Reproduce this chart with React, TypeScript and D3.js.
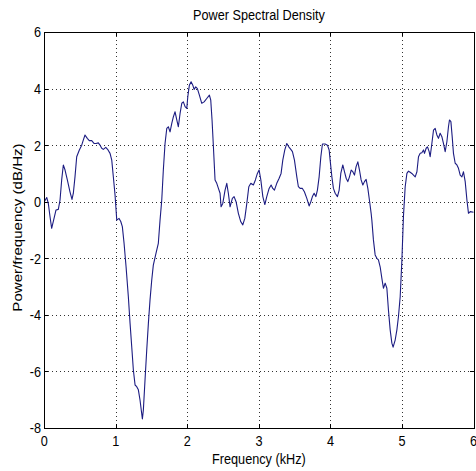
import React from "react";
import * as d3 from "d3";

const freqKHz = [
  0.0, 0.034, 0.056, 0.08, 0.103, 0.136, 0.164, 0.196, 0.22, 0.243, 0.266, 0.29, 0.322, 0.359, 0.387, 0.406,
  0.429, 0.453, 0.49, 0.523, 0.545, 0.569, 0.601, 0.629, 0.663, 0.695, 0.723, 0.755, 0.779, 0.803, 0.825,
  0.859, 0.891, 0.919, 0.943, 0.965, 0.989, 1.013, 1.045, 1.069, 1.091, 1.115, 1.143, 1.175, 1.199, 1.222,
  1.245, 1.269, 1.292, 1.315, 1.338, 1.371, 1.385, 1.408, 1.432, 1.455, 1.478, 1.502, 1.524, 1.562, 1.594,
  1.618, 1.642, 1.664, 1.688, 1.712, 1.734, 1.758, 1.782, 1.804, 1.828, 1.852, 1.874, 1.898, 1.922, 1.944,
  1.968, 1.992, 2.006, 2.028, 2.052, 2.076, 2.094, 2.117, 2.14, 2.168, 2.201, 2.234, 2.271, 2.308, 2.327,
  2.345, 2.364, 2.387, 2.411, 2.434, 2.457, 2.471, 2.495, 2.527, 2.551, 2.573, 2.597, 2.629, 2.653, 2.681,
  2.713, 2.747, 2.775, 2.803, 2.831, 2.859, 2.887, 2.923, 2.951, 2.979, 3.003, 3.027, 3.055, 3.083, 3.11,
  3.143, 3.171, 3.194, 3.217, 3.25, 3.283, 3.31, 3.334, 3.362, 3.39, 3.418, 3.446, 3.469, 3.497, 3.53,
  3.552, 3.576, 3.608, 3.636, 3.67, 3.702, 3.726, 3.748, 3.772, 3.796, 3.818, 3.842, 3.866, 3.888, 3.926,
  3.958, 3.982, 3.996, 4.02, 4.042, 4.066, 4.098, 4.122, 4.145, 4.173, 4.196, 4.22, 4.243, 4.266, 4.29,
  4.313, 4.336, 4.359, 4.383, 4.406, 4.429, 4.453, 4.476, 4.499, 4.523, 4.545, 4.569, 4.579, 4.601, 4.625,
  4.649, 4.671, 4.695, 4.719, 4.741, 4.765, 4.789, 4.811, 4.835, 4.859, 4.876, 4.905, 4.929, 4.951, 4.975,
  4.999, 5.021, 5.045, 5.069, 5.091, 5.115, 5.138, 5.161, 5.185, 5.209, 5.231, 5.255, 5.278, 5.301, 5.315,
  5.338, 5.357, 5.38, 5.394, 5.418, 5.441, 5.464, 5.488, 5.51, 5.534, 5.558, 5.58, 5.604, 5.628, 5.65,
  5.664, 5.684, 5.702, 5.72, 5.744, 5.768, 5.79, 5.814, 5.838, 5.86, 5.884, 5.908, 5.93, 5.954, 6.0,
];

const psdDb = [
  0.0, 0.15, -0.06, -0.53, -0.94, -0.59, -0.29, -0.27, 0.06, 0.77, 1.3, 1.12, 0.77, 0.35, 0.08, 0.3,
  0.88, 1.59, 1.83, 2.0, 2.18, 2.36, 2.24, 2.16, 2.16, 2.06, 2.06, 2.08, 2.0, 1.89, 1.85,
  1.92, 1.83, 1.71, 1.47, 0.88, 0.24, -0.65, -0.59, -0.7, -0.88, -1.47, -2.3, -3.36, -4.3, -5.12,
  -5.95, -6.48, -6.54, -6.65, -7.01, -7.68, -7.36, -6.3, -5.24, -4.3, -3.47, -2.77, -2.24, -1.82, -1.47,
  -0.65, 0.06, 1.12, 2.06, 2.59, 2.65, 2.47, 2.77, 3.0, 3.18, 2.89, 2.65, 3.12, 3.48, 3.53,
  3.36, 3.3, 3.71, 4.12, 4.24, 4.12, 3.97, 4.06, 4.0, 3.77, 3.48, 3.53, 3.65, 3.77, 3.59,
  2.89, 1.94, 0.77, 0.65, 0.47, 0.3, -0.18, -0.06, 0.41, 0.65, 0.3, -0.18, 0.12, 0.18, 0.0,
  -0.41, -0.71, -0.82, -0.59, -0.06, 0.53, 0.65, 0.59, 0.77, 1.0, 1.12, 0.77, 0.18, -0.1, 0.18,
  0.47, 0.59, 0.47, 0.41, 0.65, 0.83, 1.0, 1.47, 1.83, 2.06, 1.94, 1.85, 1.77, 1.47, 0.88,
  0.53, 0.47, 0.47, 0.35, 0.12, -0.15, 0.0, 0.18, 0.3, 0.18, 0.41, 0.88, 1.59, 2.04, 2.04,
  2.0, 1.83, 1.47, 0.88, 0.47, 0.3, 0.18, 0.41, 1.0, 1.3, 1.06, 0.83, 0.71, 0.88, 1.12,
  1.06, 0.94, 1.24, 1.41, 1.12, 0.77, 0.59, 0.71, 0.79, 0.47, 0.06, -0.41, -0.65, -1.35, -1.88,
  -2.0, -2.06, -2.3, -2.71, -3.06, -2.88, -3.06, -3.83, -4.53, -5.0, -5.14, -4.89, -4.53, -4.06, -3.36,
  -2.06, -0.5, 0.53, 1.0, 1.08, 1.04, 1.0, 0.94, 0.88, 1.06, 1.59, 1.71, 1.73, 1.83, 1.71,
  1.89, 1.94, 1.77, 1.59, 2.06, 2.53, 2.59, 2.36, 2.24, 2.42, 2.3, 2.06, 1.77, 2.12, 2.65,
  2.89, 2.83, 2.3, 1.71, 1.36, 1.3, 1.18, 0.94, 0.88, 1.06, 0.71, 0.06, -0.41, -0.35, -0.37,
];

const xTicks = [0, 1, 2, 3, 4, 5, 6];
const yTicks = [-8, -6, -4, -2, 0, 2, 4, 6];
const titleText = "Power Spectral Density";
const xLabelText = "Frequency (kHz)";
const yLabelText = "Power/frequency (dB/Hz)";

const W = 476;
const H = 471;
const L = 44.3;
const R = 473.5;
const T = 32;
const B = 428;
const FONT = "'Liberation Sans', Arial, Helvetica, sans-serif";
const FS = 12.7;
const SY = 1.2;
const TICK = 4;

export default function App() {
  const x = d3.scaleLinear().domain([0, 6]).range([L, R]);
  const y = d3.scaleLinear().domain([-8, 6]).range([B, T]);
  const pts: [number, number][] = freqKHz.map((f, i) => [f, psdDb[i]]);
  const path = d3
    .line<[number, number]>()
    .x((d) => x(d[0]))
    .y((d) => y(d[1]))(pts) as string;

  const textStyle = { fontFamily: FONT, fontSize: FS, fill: "#000" } as React.CSSProperties;

  return (
    <svg
      width={W}
      height={H}
      style={{ position: "absolute", left: 0, top: 0, background: "#fff", display: "block" }}
    >
      <rect x={0} y={0} width={W} height={H} fill="#fff" />
      {/* grid */}
      <g stroke="#333" strokeWidth={1} strokeDasharray="1,3" shapeRendering="crispEdges">
        {xTicks
          .filter((t) => t > 0 && t < 6)
          .map((t) => (
            <line key={"gx" + t} x1={Math.round(x(t)) + 0.5} x2={Math.round(x(t)) + 0.5} y1={T} y2={B} />
          ))}
        {yTicks
          .filter((t) => t > -8 && t < 6)
          .map((t) => (
            <line key={"gy" + t} x1={L} x2={R} y1={Math.round(y(t)) + 0.5} y2={Math.round(y(t)) + 0.5} />
          ))}
      </g>
      {/* ticks */}
      <g stroke="#000" strokeWidth={1} shapeRendering="crispEdges">
        {xTicks.map((t) => {
          const px = Math.round(x(t)) + 0.5;
          return (
            <g key={"tx" + t}>
              <line x1={px} x2={px} y1={B} y2={B - TICK} />
              <line x1={px} x2={px} y1={T} y2={T + TICK} />
            </g>
          );
        })}
        {yTicks.map((t) => {
          const py = Math.round(y(t)) + 0.5;
          return (
            <g key={"ty" + t}>
              <line x1={L} x2={L + TICK} y1={py} y2={py} />
              <line x1={R} x2={R - TICK} y1={py} y2={py} />
            </g>
          );
        })}
      </g>
      {/* data line */}
      <path d={path} fill="none" stroke="#1c1c82" strokeWidth={1.1} strokeLinejoin="round" />
      {/* box */}
      <rect
        x={Math.round(L) + 0.5}
        y={Math.round(T) + 0.5}
        width={Math.round(R) - Math.round(L)}
        height={Math.round(B) - Math.round(T)}
        fill="none"
        stroke="#000"
        strokeWidth={1}
        shapeRendering="crispEdges"
      />
      {/* x tick labels */}
      {xTicks.map((t) => (
        <text
          key={"lx" + t}
          transform={`translate(${x(t)},446) scale(1,${SY})`}
          textAnchor="middle"
          style={textStyle}
        >
          {String(t)}
        </text>
      ))}
      {/* y tick labels */}
      {yTicks.map((t) => (
        <text
          key={"ly" + t}
          transform={`translate(41,${y(t) + 5.4}) scale(1,${SY})`}
          textAnchor="end"
          style={textStyle}
        >
          {String(t)}
        </text>
      ))}
      {/* title */}
      <text
        transform={`translate(${(L + R) / 2},19.5) scale(1,${SY})`}
        textAnchor="middle"
        style={textStyle}
      >
        {titleText}
      </text>
      {/* x label */}
      <text
        transform={`translate(${(L + R) / 2},464) scale(1,${SY})`}
        textAnchor="middle"
        style={textStyle}
      >
        {xLabelText}
      </text>
      {/* y label */}
      <text
        transform={`translate(22,227.5) scale(1,1.16) rotate(-90)`}
        textAnchor="middle"
        style={{ ...textStyle, fontSize: 13 }}
      >
        {yLabelText}
      </text>
    </svg>
  );
}
